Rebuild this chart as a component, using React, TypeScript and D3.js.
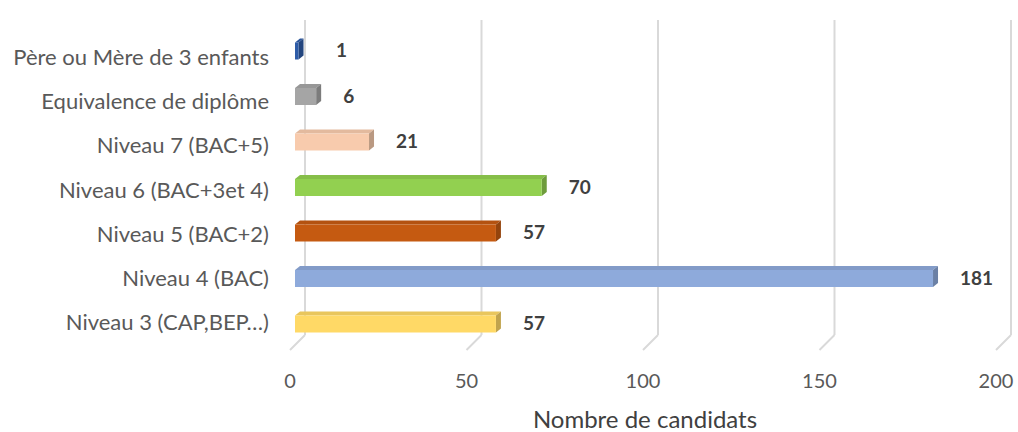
import React from "react";
import * as d3 from "d3";

const categories = [
  "Père ou Mère de 3 enfants",
  "Equivalence de diplôme",
  "Niveau 7 (BAC+5)",
  "Niveau 6 (BAC+3et 4)",
  "Niveau 5 (BAC+2)",
  "Niveau 4 (BAC)",
  "Niveau 3 (CAP,BEP…)",
];
const values = [1, 6, 21, 70, 57, 181, 57];
const colors = ["#2e5ca8", "#a5a5a5", "#f8cbad", "#92d050", "#c55a11", "#8eaadb", "#ffd966"];
const ticks = [0, 50, 100, 150, 200];
const axisTitle = "Nombre de candidats";

const W = 1018;
const H = 432;
const FONT = "Lato, 'Open Sans', sans-serif";

export default function App() {
  const xFront = d3.scaleLinear().domain([0, 200]).range([290, 996]);
  const xBack = d3.scaleLinear().domain([0, 200]).range([305, 1011]);
  const xBar = d3.scaleLinear().domain([0, 200]).range([295, 1000]);
  const y = d3.scalePoint<string>().domain(categories).range([50, 323]);
  const yLabel = d3.scalePoint<string>().domain(categories).range([57, 322]);

  const gridTop = 20;
  const gridBottom = 335;
  const floorFront = 350;
  const depthX = 5;
  const depthY = 4;
  const faceH = 17;

  return (
    <svg width={W} height={H} style={{ position: "absolute", left: 0, top: 0, background: "#fff" }}>
      {ticks.map((t) => (
        <g key={t}>
          <line x1={xBack(t)} x2={xBack(t)} y1={gridTop} y2={gridBottom} stroke="#d9d9d9" strokeWidth={2} />
          <line x1={xBack(t)} x2={xFront(t)} y1={gridBottom} y2={floorFront} stroke="#d9d9d9" strokeWidth={2} />
          <text x={xFront(t)} y={388} textAnchor="middle" fontFamily={FONT} fontSize={20} fill="#595959">
            {t}
          </text>
        </g>
      ))}
      {categories.map((c, i) => {
        const cy = y(c)!;
        const x0 = xBar(0);
        const x1 = xBar(values[i]);
        const top = cy - faceH / 2 + 1;
        const col = d3.color(colors[i])!;
        const topCol = col.darker(0.25).formatHex();
        const sideCol = col.darker(0.8).formatHex();
        return (
          <g key={c}>
            <polygon
              points={`${x0},${top} ${x0 + depthX},${top - depthY} ${x1 + depthX},${top - depthY} ${x1},${top}`}
              fill={topCol}
            />
            <polygon
              points={`${x1},${top} ${x1 + depthX},${top - depthY} ${x1 + depthX},${top + faceH - depthY} ${x1},${top + faceH}`}
              fill={sideCol}
            />
            <rect x={x0} y={top} width={Math.max(0, x1 - x0)} height={faceH} fill={colors[i]} />
            <text x={269} y={yLabel(c)! + 8} textAnchor="end" fontFamily={FONT} fontSize={22} fill="#595959">
              {c}
            </text>
            <text
              x={Math.max(x1 + depthX + 22, 336)}
              y={cy + 7}
              fontFamily={FONT}
              fontSize={19}
              fontWeight="bold"
              fill="#404040"
            >
              {values[i]}
            </text>
          </g>
        );
      })}
      <text x={645} y={428} textAnchor="middle" fontFamily={FONT} fontSize={24} fill="#404040">
        {axisTitle}
      </text>
    </svg>
  );
}
